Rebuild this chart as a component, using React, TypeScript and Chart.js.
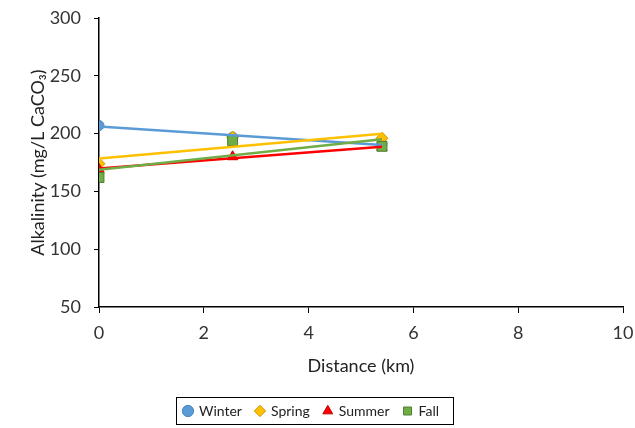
import React, { useEffect, useRef } from "react";
import { Chart, registerables } from "chart.js";

Chart.register(...registerables);

const distance = [0, 2.55, 5.4];
const winter = [207, 197, 191];
const spring = [174, 197, 196];
const summer = [169, 180, 188];
const fall = [162, 194, 189];
const seriesNames = ["Winter", "Spring", "Summer", "Fall"];
const xTicks = [0, 2, 4, 6, 8, 10];
const yTicks = [50, 100, 150, 200, 250, 300];

const FONT = "Lato, 'Open Sans', sans-serif";

function trend(xs: number[], ys: number[]) {
  const n = xs.length;
  const mx = xs.reduce((a, b) => a + b, 0) / n;
  const my = ys.reduce((a, b) => a + b, 0) / n;
  let sxy = 0, sxx = 0;
  for (let i = 0; i < n; i++) {
    sxy += (xs[i] - mx) * (ys[i] - my);
    sxx += (xs[i] - mx) * (xs[i] - mx);
  }
  const slope = sxy / sxx;
  const b = my - slope * mx;
  const x0 = Math.min(...xs);
  const x1 = Math.max(...xs);
  return [
    { x: x0, y: b + slope * x0 },
    { x: x1, y: b + slope * x1 },
  ];
}

const pts = (ys: number[]) => distance.map((x, i) => ({ x, y: ys[i] }));

const legendBorder = {
  id: "legendBorder",
  afterDraw(chart: any) {
    const boxes = chart.legend?.legendHitBoxes;
    if (!boxes || !boxes.length) return;
    let l = Infinity, r = -Infinity, t = Infinity, b = -Infinity;
    for (const h of boxes) {
      l = Math.min(l, h.left);
      r = Math.max(r, h.left + h.width);
      t = Math.min(t, h.top);
      b = Math.max(b, h.top + h.height);
    }
    const ctx = chart.ctx;
    ctx.save();
    ctx.strokeStyle = "#000";
    ctx.lineWidth = 1;
    ctx.strokeRect(Math.round(l - 8) + 0.5, Math.round(t - 7) + 0.5, Math.round(r - l + 22), Math.round(b - t + 13));
    ctx.restore();
  },
};

export default function App() {
  const ref = useRef<HTMLCanvasElement>(null);
  useEffect(() => {
    if (!ref.current) return;
    const colors = ["#5B9BD5", "#FFC000", "#FF0000", "#70AD47"];
    const borders = ["#4A86C0", "#C99700", "#C00000", "#507E32"];
    const styles = ["circle", "rectRot", "triangle", "rect"];
    const radii = [5, 6, 6, 7];
    const all = [winter, spring, summer, fall];
    const datasets: any[] = [];
    all.forEach((ys, i) => {
      datasets.push({
        label: seriesNames[i],
        data: pts(ys),
        showLine: false,
        backgroundColor: colors[i],
        borderColor: borders[i],
        borderWidth: 1,
        pointStyle: styles[i],
        pointRadius: radii[i],
        order: 10 - i,
      });
    });
    all.forEach((ys, i) => {
      datasets.push({
        label: seriesNames[i] + " trend",
        data: trend(distance, ys),
        showLine: true,
        borderColor: colors[i],
        borderWidth: 2.5,
        pointRadius: 0,
        fill: false,
        order: 5 - i,
      });
    });
    const chart = new Chart(ref.current, {
      type: "scatter",
      data: { datasets },
      options: {
        animation: false,
        responsive: false,
        layout: { padding: { top: 18, right: 12, left: 0, bottom: 0 } },
        plugins: {
          tooltip: { enabled: false },
          legend: {
            position: "bottom",
            labels: {
              filter: (item: any) => item.datasetIndex < 4,
              sort: (a: any, b: any) => a.datasetIndex - b.datasetIndex,
              usePointStyle: true,
              boxWidth: 8,
              boxHeight: 8,
              padding: 14,
              color: "#222",
              font: { family: FONT, size: 14 },
            },
          },
        },
        scales: {
          x: {
            type: "linear",
            min: 0,
            max: 10,
            afterBuildTicks: (s: any) => {
              s.ticks = xTicks.map((v) => ({ value: v }));
            },
            afterFit: (s: any) => {
              s.height = 83;
              s.paddingLeft = 0;
              s.paddingRight = 0;
            },
            grid: { display: true, drawOnChartArea: false, drawTicks: true, tickLength: 6, color: "#000" },
            border: { color: "#000", width: 1.5 },
            ticks: { color: "#333", padding: 9, font: { family: FONT, size: 18 } },
            title: { display: true, text: "Distance (km)", color: "#222", padding: { top: 13, bottom: 13 }, font: { family: FONT, size: 18 } },
          },
          y: {
            type: "linear",
            min: 50,
            max: 300,
            afterBuildTicks: (s: any) => {
              s.ticks = yTicks.map((v) => ({ value: v }));
            },
            afterFit: (s: any) => {
              s.width = 99;
              s.paddingTop = 0;
              s.paddingBottom = 0;
            },
            grid: { display: true, drawOnChartArea: false, drawTicks: true, tickLength: 5, color: "#000" },
            border: { color: "#000", width: 1.5 },
            ticks: { color: "#333", padding: 13, font: { family: FONT, size: 18 } },
            title: { display: true, text: "Alkalinity (mg/L CaCO\u2083)", color: "#222", padding: { top: 27, bottom: 27 }, font: { family: FONT, size: 18 } },
          },
        },
      },
      plugins: [legendBorder],
    });
    return () => chart.destroy();
  }, []);
  return (
    <div style={{ position: "absolute", left: 0, top: 0, width: 635, height: 428, background: "#fff" }}>
      <canvas ref={ref} width={635} height={428} style={{ width: 635, height: 428 }} />
    </div>
  );
}
